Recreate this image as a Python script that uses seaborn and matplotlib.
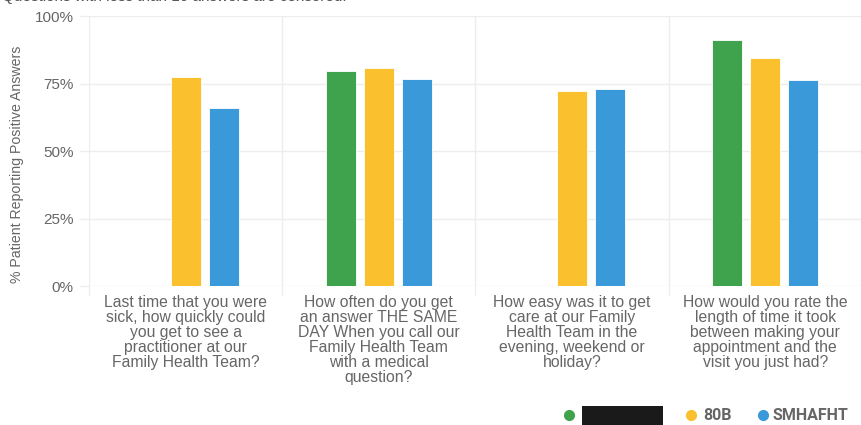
import numpy as np
import pandas as pd
import seaborn as sns
import matplotlib.pyplot as plt
from matplotlib.lines import Line2D
from matplotlib.patches import Rectangle
from matplotlib.ticker import FixedLocator

# Survey questions (x categories)
questions = [
    "Last time that you were\nsick, how quickly could\nyou get to see a\npractitioner at our\nFamily Health Team?",
    "How often do you get\nan answer THE SAME\nDAY When you call our\nFamily Health Team\nwith a medical\nquestion?",
    "How easy was it to get\ncare at our Family\nHealth Team in the\nevening, weekend or\nholiday?",
    "How would you rate the\nlength of time it took\nbetween making your\nappointment and the\nvisit you just had?",
]

# Series names and their % positive answers (NaN = censored, fewer than 10 answers)
series_names = ["FHT", "80B", "SMHAFHT"]
fht_values = [np.nan, 79.6, np.nan, 91.2]
b80_values = [77.4, 80.9, 72.2, 84.6]
smhafht_values = [66.1, 76.8, 72.9, 76.4]

palette = ["#3FA34D", "#FBC02D", "#3A9AD9"]
y_ticks = [0, 25, 50, 75, 100]
y_tick_labels = ["0%", "25%", "50%", "75%", "100%"]

rows = []
for name, vals in zip(series_names, [fht_values, b80_values, smhafht_values]):
    for q, v in zip(questions, vals):
        rows.append({"question": q, "series": name, "pct": v})
df = pd.DataFrame(rows)

sns.set_theme(style="white")
plt.rcParams["font.family"] = ["Liberation Sans", "DejaVu Sans"]

W, H = 862, 425
fig = plt.figure(figsize=(W / 100, H / 100), dpi=100)
ax = fig.add_axes([89 / W, 1 - 286 / H, (862 - 89) / W, (286 - 16.3) / H])

grid_c = "#EDEDED"
text_c = "#666666"

sns.barplot(
    data=df, x="question", y="pct", hue="series",
    order=questions, hue_order=series_names, palette=palette,
    width=0.59, gap=0.21, dodge=True, legend=False,
    edgecolor="white", linewidth=0.6, saturation=1, ax=ax, zorder=3,
)

ax.set_ylim(0, 100)
ax.set_xlim(-0.5, len(questions) - 0.5)
ax.set_yticks(y_ticks)
ax.set_yticklabels(y_tick_labels)
ax.yaxis.grid(True, color=grid_c, linewidth=1.0, zorder=0)
ax.xaxis.set_minor_locator(FixedLocator(np.arange(-0.5, len(questions), 1.0)))
ax.xaxis.grid(True, which="minor", color=grid_c, linewidth=1.0, zorder=0)
ax.xaxis.grid(False, which="major")
for s in ax.spines.values():
    s.set_visible(False)

ax.tick_params(axis="y", length=6.5, color=grid_c, width=1.0, pad=4.5,
               labelsize=11, labelcolor=text_c, left=True)
ax.tick_params(axis="x", which="major", length=0, pad=6.5,
               labelsize=11.3, labelcolor=text_c)
ax.tick_params(axis="x", which="minor", length=6.5, color=grid_c, width=1.0,
               bottom=True)
for lbl in ax.get_xticklabels():
    lbl.set_linespacing(1.0)
    lbl.set_ha("center")

ax.set_xlabel("")
ax.set_ylabel("% Patient Reporting Positive Answers", fontsize=10.2,
              color=text_c)
ax.yaxis.set_label_coords(-0.084, 0.452)

# Note above the chart
fig.text(2 / W, 1 - 1.5 / H, "Questions with less than 10 answers are censored.",
         fontsize=11, color="#555555", ha="left", va="baseline")

# Legend along the bottom right
ly = 1 - 415 / H
mk = dict(marker="o", markersize=7, linestyle="none", transform=fig.transFigure)
fig.add_artist(Line2D([569 / W], [ly], color=palette[0], **mk))
fig.add_artist(Rectangle((582 / W, 1 - 425 / H), 81 / W, 19 / H,
                         facecolor="#1A1A1A", edgecolor="none",
                         transform=fig.transFigure))
fig.add_artist(Line2D([691 / W], [ly], color=palette[1], **mk))
fig.text(703 / W, ly, series_names[1], fontsize=11.5, fontweight="bold",
         color=text_c, family=["Roboto", "DejaVu Sans"], ha="left", va="center")
fig.add_artist(Line2D([763 / W], [ly], color=palette[2], **mk))
fig.text(773 / W, ly, series_names[2], fontsize=11.5, fontweight="bold",
         color=text_c, family=["Roboto", "DejaVu Sans"], ha="left", va="center")

fig.savefig("out.png", dpi=100)
